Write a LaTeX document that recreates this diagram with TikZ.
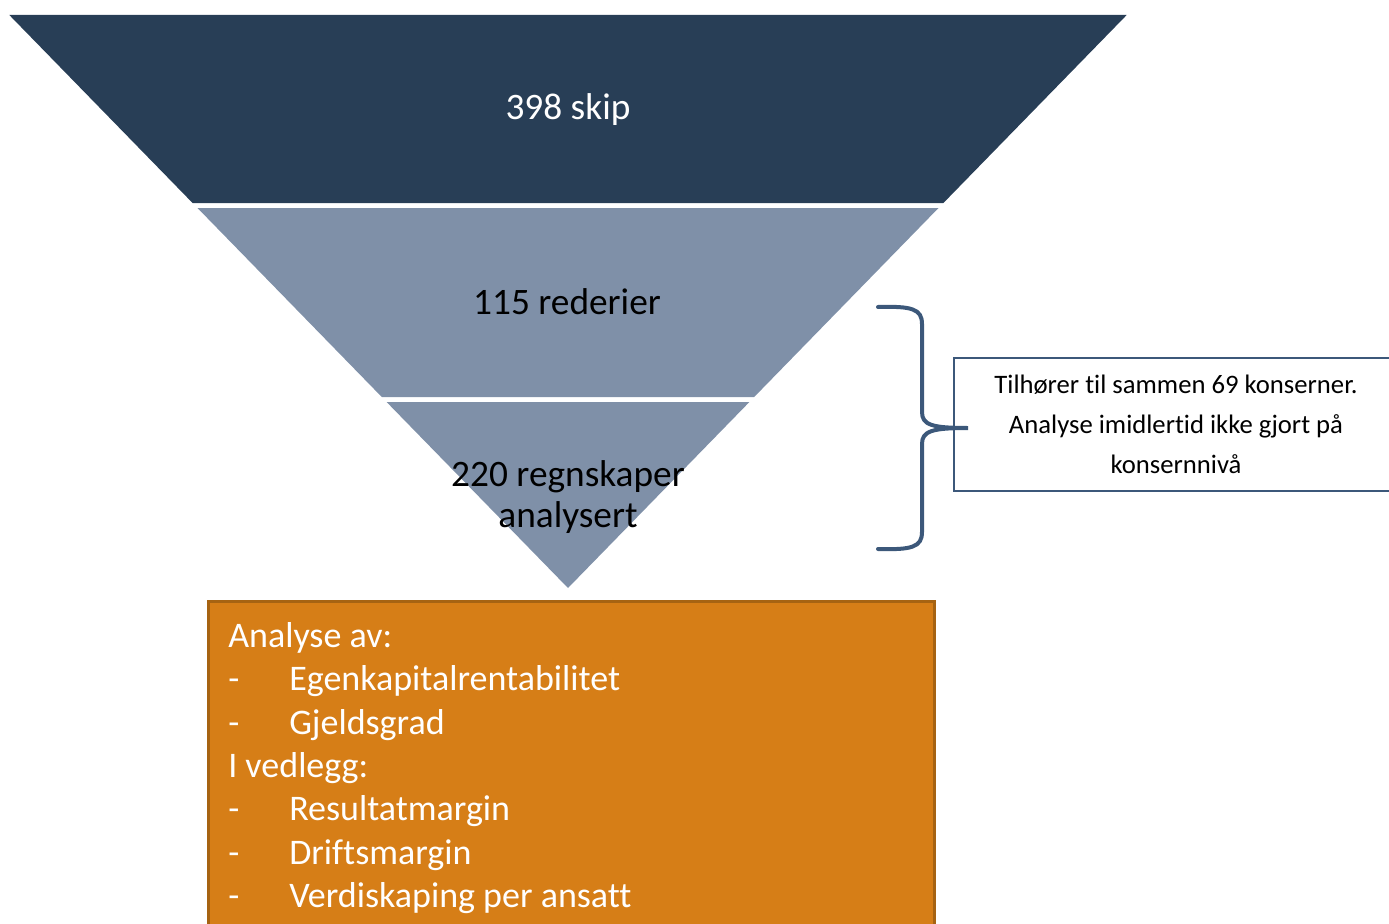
\documentclass[tikz,border=0pt]{standalone}
\usepackage{fontspec}
\setmainfont[Ligatures=NoCommon]{Carlito}
\usetikzlibrary{calc}
\definecolor{navy}{RGB}{40,62,86}
\definecolor{slate}{RGB}{127,144,168}
\definecolor{amber}{RGB}{214,126,23}
\definecolor{amberdark}{RGB}{166,99,18}
\definecolor{bracecol}{RGB}{60,88,122}

\begin{document}
\begin{tikzpicture}[x=0.75pt,y=0.75pt,yscale=-1,xscale=1,
  bandtext/.style={inner sep=0.75pt, align=center, font=\fontsize{28}{30.75}\selectfont},
  listtext/.style={anchor=base west, inner sep=0pt, text=white, font=\fontsize{27}{32}\selectfont}]
\useasboundingbox (0,0) rectangle (1389,924);

%Shape: Trapezoid [id:top band]
\fill [navy] (9.3,15) -- (1126.7,15) -- (943.4,203) -- (192.6,203) -- cycle ;
%Shape: Trapezoid [id:middle band]
\fill [slate] (197.5,208) -- (938.5,208) -- (754.2,397) -- (381.8,397) -- cycle ;
%Shape: Triangle [id:bottom band]
\fill [slate] (386.6,402) -- (749.4,402) -- (568,588) -- cycle ;

%Shape: Rectangle [id:analysis box]
\draw [fill=amber, draw=amberdark, line width=2.25pt] (208,601) rectangle (934,960) ;

% Text Node
\node (skip) at (568,110) [bandtext, text=white] {398 skip};
% Text Node
\node (rederier) at (567,302) [bandtext] {115 rederier};
% Text Node
\node (regnskap) at (568,497) [bandtext] {220 regnskaper\\analysert};

% Text Node
\node (note) at (1176,424.5) [draw=bracecol, line width=1.5pt, fill=white,
  minimum width=333pt, minimum height=99.75pt, align=center,
  font=\fontsize{20}{30}\selectfont]
  {Tilhører til sammen 69 konserner.\\Analyse imidlertid ikke gjort på\\konsernnivå};

%Shape: Brace [id:right brace]
\draw [bracecol, line width=3pt, line cap=round]
  (878,307) .. controls (912,306) and (922,309) .. (922,324) -- (922,412)
  .. controls (922,425) and (932,428) .. (968,428)
  .. controls (932,428) and (922,431) .. (922,444) -- (922,532)
  .. controls (922,547) and (912,550) .. (878,549) ;

% Text Node
\node (analyse) at (228,647) [listtext] {Analyse av:};
\node (dash1) at (228,690) [listtext] {-};
\node (ek) at (289,690) [listtext] {Egenkapitalrentabilitet};
\node (dash2) at (228,734) [listtext] {-};
\node (gjeld) at (289,734) [listtext] {Gjeldsgrad};
\node (vedlegg) at (228,777) [listtext] {I vedlegg:};
\node (dash3) at (228,820) [listtext] {-};
\node (resultat) at (289,820) [listtext] {Resultatmargin};
\node (dash4) at (228,864) [listtext] {-};
\node (drift) at (289,864) [listtext] {Driftsmargin};
\node (dash5) at (228,907) [listtext] {-};
\node (verdi) at (289,907) [listtext] {Verdiskaping per ansatt};

\end{tikzpicture}
\end{document}
